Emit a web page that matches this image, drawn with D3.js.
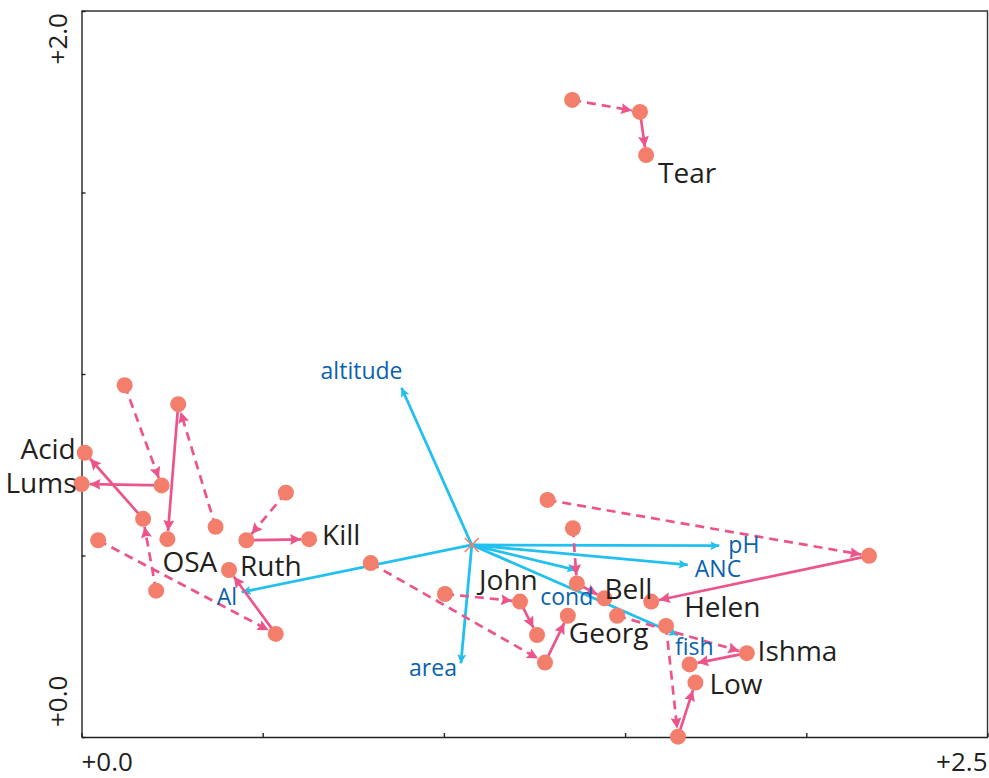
<!DOCTYPE html>
<html>
<head>
<meta charset="utf-8">
<script src="https://cdn.jsdelivr.net/npm/d3@7"></script>
<style>
  html, body { margin: 0; padding: 0; background: #fff; }
  svg { display: block; font-family: 'Open Sans', 'Noto Sans', sans-serif; }
</style>
</head>
<body>
<div id="chart"></div>
<script>
// site scores over three surveys (start -> middle -> end)
const sites = ['Tear', 'Acid', 'Lums', 'OSA', 'Kill', 'Ruth', 'Georg', 'John', 'Helen', 'Bell', 'Ishma', 'Low'];
const scoresX = [
  [1.354, 1.541, 1.558],
  [0.206, 0.170, 0.009],
  [0.119, 0.221, 0.000],
  [0.370, 0.267, 0.237],
  [0.564, 0.455, 0.628],
  [0.046, 0.536, 0.407],
  [0.798, 1.279, 1.342],
  [1.003, 1.210, 1.257],
  [1.286, 2.173, 1.572],
  [1.356, 1.367, 1.443],
  [1.478, 1.836, 1.678],
  [1.613, 1.646, 1.694],
];
const scoresY = [
  [1.755, 1.722, 1.603],
  [0.403, 0.601, 0.783],
  [0.969, 0.693, 0.697],
  [0.579, 0.917, 0.545],
  [0.673, 0.542, 0.545],
  [0.542, 0.284, 0.460],
  [0.479, 0.205, 0.334],
  [0.394, 0.373, 0.281],
  [0.653, 0.499, 0.373],
  [0.575, 0.423, 0.382],
  [0.334, 0.231, 0.200],
  [0.306, 0.001, 0.150],
];

// environmental vectors
const envOrigin = [1.077, 0.529];
const envVars = ['altitude', 'area', 'pH', 'ANC', 'cond', 'fish', 'Al'];
const envX = [0.883, 1.047, 1.760, 1.673, 1.365, 1.646, 0.442];
const envY = [0.962, 0.203, 0.527, 0.474, 0.460, 0.281, 0.399];

const xDomain = [0, 2.5];
const yDomain = [0, 2.0];
const xTicks = [0, 0.5, 1, 1.5, 2, 2.5];
const yTicks = [0, 0.5, 1, 1.5, 2];

// label placement (pixel offsets from the labelled point)
const siteLabelPos = {
  Tear: [12, 28, 'start'], Acid: [-9, 6, 'end'], Lums: [-5, 9, 'end'],
  OSA: [-5, 33, 'start'], Kill: [13, 6, 'start'], Ruth: [11, 6, 'start'],
  Georg: [1, 27, 'start'], John: [-58, -45, 'start'], Helen: [33, 15, 'start'],
  Bell: [0, 1, 'start'], Ishma: [68, -3, 'start'], Low: [14, 11, 'start'],
};
const envLabelPos = {
  altitude: [1, -9, 'end'], area: [-4, 13, 'end'], pH: [9, 7, 'start'],
  ANC: [7, 12, 'start'], cond: [-36, 35, 'start'], fish: [-3, 20, 'start'],
  Al: [-25, 13, 'start'],
};

const width = 989;
const height = 778;
const pointColor = '#f37e6b';
const pathColor = '#ec558c';
const envColor = '#22c0ef';
const envTextColor = '#0b62ae';
const textColor = '#231f20';
const r = 8;

const svg = d3
  .select('#chart')
  .append('svg')
  .attr('width', width)
  .attr('height', height);

const x = d3.scaleLinear().domain(xDomain).range([81.5, 987.5]);
const y = d3.scaleLinear().domain(yDomain).range([737, 11]);

const defs = svg.append('defs');
defs
  .append('marker')
  .attr('id', 'head-pink')
  .attr('viewBox', '0 0 10 10')
  .attr('refX', 10)
  .attr('refY', 5)
  .attr('markerWidth', 13)
  .attr('markerHeight', 11)
  .attr('markerUnits', 'userSpaceOnUse')
  .attr('orient', 'auto')
  .append('path')
  .attr('d', 'M0,0L10,5L0,10L1.5,5Z')
  .attr('fill', pathColor);
defs
  .append('marker')
  .attr('id', 'head-blue')
  .attr('viewBox', '0 0 10 10')
  .attr('refX', 10)
  .attr('refY', 5)
  .attr('markerWidth', 10)
  .attr('markerHeight', 9)
  .attr('markerUnits', 'userSpaceOnUse')
  .attr('orient', 'auto')
  .append('path')
  .attr('d', 'M0,0L10,5L0,10L2,5Z')
  .attr('fill', envColor);

// frame
svg
  .append('path')
  .attr('d', 'M' + x(0) + ',' + y(2) + 'H' + x(2.5) + 'V' + y(0))
  .attr('fill', 'none')
  .attr('stroke', '#333')
  .attr('stroke-width', 1.4);

svg
  .append('g')
  .attr('transform', 'translate(0,' + y(0) + ')')
  .call(d3.axisBottom(x).tickValues(xTicks).tickSize(-4).tickSizeOuter(0).tickFormat(''))
  .call((g) => g.selectAll('path,line').attr('stroke', '#222').attr('stroke-width', 1.4));

svg
  .append('g')
  .attr('transform', 'translate(' + x(0) + ',0)')
  .call(d3.axisLeft(y).tickValues(yTicks).tickSize(-4).tickSizeOuter(0).tickFormat(''))
  .call((g) => g.selectAll('path,line').attr('stroke', '#222').attr('stroke-width', 1.4));

const fmt = d3.format('+.1f');
svg
  .append('text')
  .attr('x', x(xDomain[0]))
  .attr('y', 771)
  .attr('font-size', 26)
  .attr('fill', textColor)
  .text(fmt(xDomain[0]));
svg
  .append('text')
  .attr('x', x(xDomain[1]))
  .attr('y', 771)
  .attr('text-anchor', 'end')
  .attr('font-size', 26)
  .attr('fill', textColor)
  .text(fmt(xDomain[1]));
svg
  .append('text')
  .attr('transform', 'translate(67,' + (y(yDomain[0]) - 10) + ') rotate(-90)')
  .attr('font-size', 26)
  .attr('fill', textColor)
  .text(fmt(yDomain[0]));
svg
  .append('text')
  .attr('transform', 'translate(67,' + (y(yDomain[1]) + 2) + ') rotate(-90)')
  .attr('text-anchor', 'end')
  .attr('font-size', 26)
  .attr('fill', textColor)
  .text(fmt(yDomain[1]));

// environmental vectors
const env = envVars.map((name, i) => ({ name, x: envX[i], y: envY[i] }));
svg
  .append('g')
  .selectAll('line')
  .data(env)
  .enter()
  .append('line')
  .attr('x1', x(envOrigin[0]))
  .attr('y1', y(envOrigin[1]))
  .attr('x2', (d) => x(d.x))
  .attr('y2', (d) => y(d.y))
  .attr('stroke', envColor)
  .attr('stroke-width', 2.8)
  .attr('marker-end', 'url(#head-blue)');

const cx0 = x(envOrigin[0]);
const cy0 = y(envOrigin[1]);
svg
  .append('path')
  .attr('d', 'M' + (cx0 - 7) + ',' + (cy0 - 7) + 'L' + (cx0 + 7) + ',' + (cy0 + 7) +
    'M' + (cx0 - 7) + ',' + (cy0 + 7) + 'L' + (cx0 + 7) + ',' + (cy0 - 7))
  .attr('stroke', pointColor)
  .attr('stroke-width', 1.6);

// site trajectories
const segments = [];
sites.forEach((name, i) => {
  for (let k = 0; k < 2; k++) {
    segments.push({
      x1: scoresX[i][k], y1: scoresY[i][k],
      x2: scoresX[i][k + 1], y2: scoresY[i][k + 1],
      dashed: k === 0,
    });
  }
});

const trimEnd = (d) => {
  const ax = x(d.x1), ay = y(d.y1), bx = x(d.x2), by = y(d.y2);
  const len = Math.hypot(bx - ax, by - ay);
  const t = (len - r) / len;
  return [ax, ay, ax + (bx - ax) * t, ay + (by - ay) * t];
};

svg
  .append('g')
  .selectAll('line')
  .data(segments)
  .enter()
  .append('line')
  .attr('x1', (d) => trimEnd(d)[0])
  .attr('y1', (d) => trimEnd(d)[1])
  .attr('x2', (d) => trimEnd(d)[2])
  .attr('y2', (d) => trimEnd(d)[3])
  .attr('stroke', pathColor)
  .attr('stroke-width', 2.7)
  .attr('stroke-dasharray', (d) => (d.dashed ? '9,6' : null))
  .attr('marker-end', 'url(#head-pink)');

const points = [];
sites.forEach((name, i) => {
  scoresX[i].forEach((v, k) => points.push({ x: v, y: scoresY[i][k] }));
});

svg
  .append('g')
  .selectAll('circle')
  .data(points)
  .enter()
  .append('circle')
  .attr('cx', (d) => x(d.x))
  .attr('cy', (d) => y(d.y))
  .attr('r', r)
  .attr('fill', pointColor);

// labels
svg
  .append('g')
  .selectAll('text')
  .data(env)
  .enter()
  .append('text')
  .attr('x', (d) => x(d.x) + envLabelPos[d.name][0])
  .attr('y', (d) => y(d.y) + envLabelPos[d.name][1])
  .attr('text-anchor', (d) => envLabelPos[d.name][2])
  .attr('font-size', 23)
  .attr('fill', envTextColor)
  .text((d) => d.name);

svg
  .append('g')
  .selectAll('text')
  .data(sites)
  .enter()
  .append('text')
  .attr('x', (d, i) => x(scoresX[i][2]) + siteLabelPos[d][0])
  .attr('y', (d, i) => y(scoresY[i][2]) + siteLabelPos[d][1])
  .attr('text-anchor', (d) => siteLabelPos[d][2])
  .attr('font-size', 28)
  .attr('fill', textColor)
  .text((d) => d);
</script>
</body>
</html>
